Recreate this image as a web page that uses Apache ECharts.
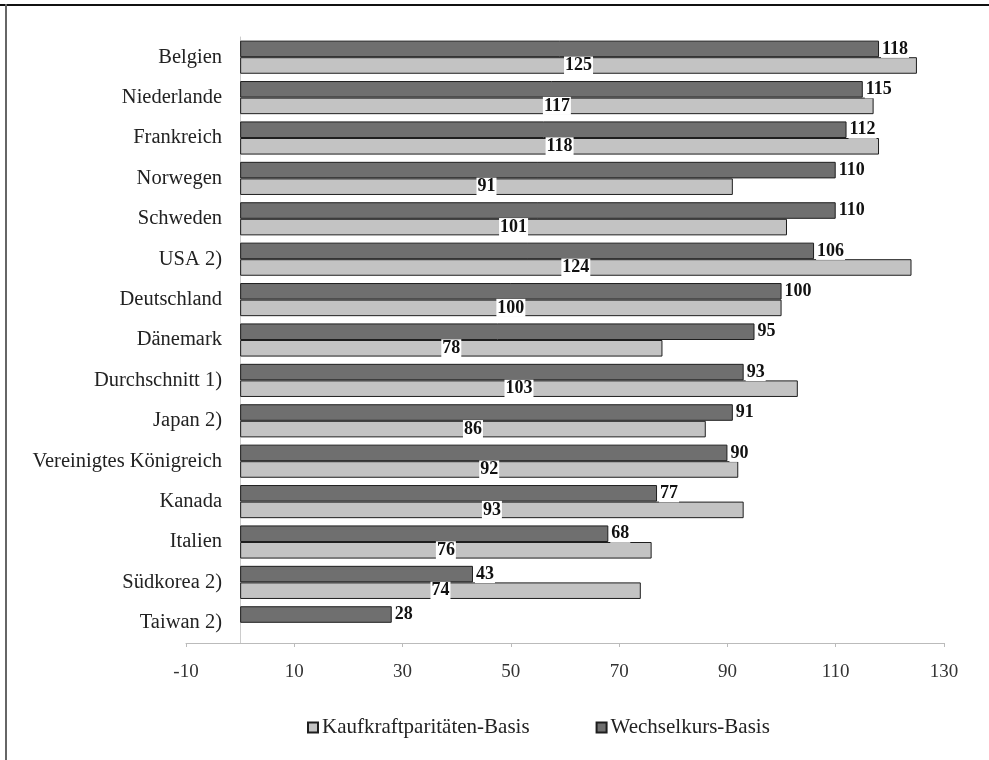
<!DOCTYPE html>
<html>
<head>
<meta charset="utf-8">
<script src="https://cdn.jsdelivr.net/npm/echarts@6/dist/echarts.min.js"></script>
<style>
  html, body { margin: 0; padding: 0; background: #fff; }
  #chart { width: 989px; height: 760px; }
</style>
</head>
<body>
<div id="chart"></div>
<script>
// Länder / Gruppen, von oben nach unten
const categories = [
  'Belgien', 'Niederlande', 'Frankreich', 'Norwegen', 'Schweden', 'USA 2)',
  'Deutschland', 'Dänemark', 'Durchschnitt 1)', 'Japan 2)',
  'Vereinigtes Königreich', 'Kanada', 'Italien', 'Südkorea 2)', 'Taiwan 2)'
];
// Index auf Wechselkurs-Basis
const wechselkurs = [118, 115, 112, 110, 110, 106, 100, 95, 93, 91, 90, 77, 68, 43, 28];
// Index auf Kaufkraftparitäten-Basis (Taiwan ohne Wert)
const kaufkraft = [125, 117, 118, 91, 101, 124, 100, 78, 103, 86, 92, 93, 76, 74, null];
// Skala der Wertachse
const axisMin = -10;
const axisMax = 130;
const axisStep = 20;

const serif = '"Liberation Serif", "DejaVu Serif", serif';
const chart = echarts.init(document.getElementById('chart'));

chart.setOption({
  animation: false,
  backgroundColor: '#fff',
  textStyle: { fontFamily: serif },
  grid: { left: 186, right: 45, top: 37, bottom: 117, containLabel: false },
  legend: {
    data: ['Kaufkraftparitäten-Basis', 'Wechselkurs-Basis'],
    top: 712,
    left: 302,
    itemWidth: 10,
    itemHeight: 10,
    itemGap: 66,
    icon: 'rect',
    textStyle: { fontFamily: serif, fontSize: 21, color: '#222', padding: [0, 0, 0, -1] }
  },
  xAxis: {
    type: 'value',
    min: axisMin,
    max: axisMax,
    interval: axisStep,
    splitLine: { show: false },
    axisLine: { show: true, lineStyle: { color: '#bbb', width: 1 } },
    axisTick: { show: true, length: 4, lineStyle: { color: '#bbb' } },
    axisLabel: { fontFamily: serif, fontSize: 19, color: '#333', margin: 20 }
  },
  yAxis: {
    type: 'category',
    data: categories,
    inverse: true,
    axisLine: { show: true, onZero: true, lineStyle: { color: '#ccc', width: 1 } },
    axisTick: { show: false },
    axisLabel: { fontFamily: serif, fontSize: 20.5, color: '#222', margin: -36 }
  },
  series: [
    {
      name: 'Wechselkurs-Basis',
      type: 'bar',
      data: wechselkurs,
      barGap: '0%',
      barCategoryGap: '18%',
      itemStyle: { color: '#6f6f6f', borderColor: '#1e1e1e', borderWidth: 1 },
      label: {
        show: true,
        position: 'right',
        distance: 2,
        fontFamily: serif,
        fontSize: 18,
        fontWeight: 'bold',
        color: '#111',
        backgroundColor: '#fff',
        padding: [0, 1]
      }
    },
    {
      name: 'Kaufkraftparitäten-Basis',
      type: 'bar',
      data: kaufkraft,
      itemStyle: { color: '#c3c3c3', borderColor: '#1e1e1e', borderWidth: 1 },
      label: {
        show: true,
        position: 'inside',
        fontFamily: serif,
        fontSize: 18,
        fontWeight: 'bold',
        color: '#111',
        backgroundColor: '#fff',
        padding: [0, 1]
      }
    }
  ],
  graphic: [
    { type: 'rect', left: 0, top: 4, shape: { width: 989, height: 2 }, style: { fill: '#111' }, silent: true },
    { type: 'rect', left: 5, top: 4, shape: { width: 2, height: 756 }, style: { fill: '#666' }, silent: true }
  ]
});
</script>
</body>
</html>
